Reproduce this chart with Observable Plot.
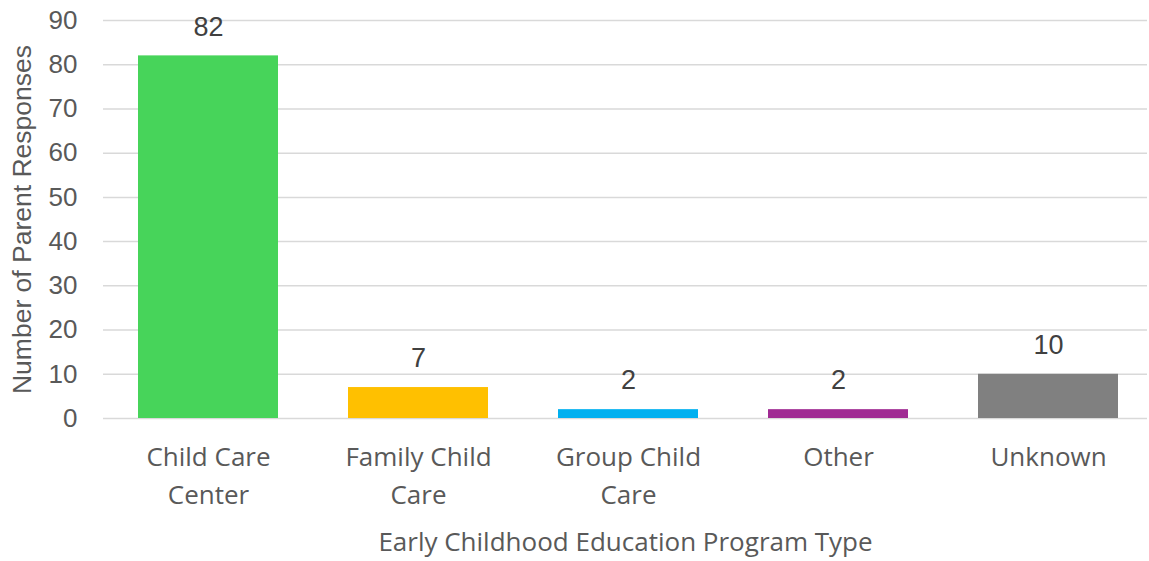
<!DOCTYPE html>
<html>
<head>
<meta charset="utf-8">
<script src="https://cdn.jsdelivr.net/npm/d3@7"></script>
<script src="https://cdn.jsdelivr.net/npm/@observablehq/plot@0.6"></script>
<style>
  html, body { margin: 0; padding: 0; background: #fff; overflow: hidden; }
  svg { display: block; }
</style>
</head>
<body>
<div id="chart"></div>
<script>
const categories = ["Child Care\nCenter", "Family Child\nCare", "Group Child\nCare", "Other", "Unknown"];
const responses = [82, 7, 2, 2, 10];
const barColors = ["#47D45A", "#FFC000", "#00B0F0", "#A02B93", "#808080"];
const yTicks = [0, 10, 20, 30, 40, 50, 60, 70, 80, 90];
const xTitle = "Early Childhood Education Program Type";
const yTitle = "Number of Parent Responses";

const data = categories.map((c, i) => ({category: c, value: responses[i], color: barColors[i]}));

const chart = Plot.plot({
  width: 1149,
  height: 561,
  marginLeft: 103,
  marginRight: 2,
  marginTop: 20,
  marginBottom: 143,
  style: {fontFamily: "'Liberation Sans', Arial, sans-serif", color: "#595959", background: "#fff"},
  x: {domain: categories, range: [103, 1153], paddingInner: 1/3, paddingOuter: 1/6, label: null},
  y: {domain: [0, 90], label: null},
  marks: [
    Plot.ruleY(yTicks, {stroke: "#d9d9d9", strokeWidth: 1.5}),
    Plot.barY(data, {x: "category", y: "value", fill: "color"}),
    Plot.text(data, {x: "category", y: "value", text: d => String(d.value), dy: -29, fontSize: 27, fill: "#404040"}),
    Plot.axisY(yTicks, {tickSize: 0, tickPadding: 26, fontSize: 26, fill: "#595959", label: null}),
    Plot.axisX({tickSize: 0, tickPadding: 21, fontSize: 26, lineHeight: 1.45, fill: "#595959", fontFamily: "'Open Sans', sans-serif", label: null}),
    Plot.text([xTitle], {frameAnchor: "bottom", dy: 132, fontSize: 26, fill: "#595959", fontFamily: "'Open Sans', sans-serif"}),
    Plot.text([yTitle], {frameAnchor: "left", textAnchor: "middle", dx: -81, rotate: -90, fontSize: 26.5, fill: "#595959"})
  ]
});
document.getElementById("chart").appendChild(chart);
</script>
</body>
</html>
